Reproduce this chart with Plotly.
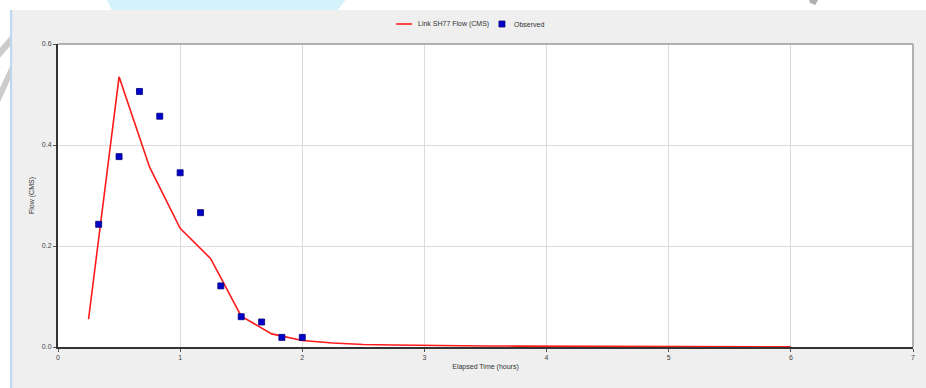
import plotly.graph_objects as go

# Simulated link flow, 15-minute time step
sim_hours = [0.25, 0.5, 0.75, 1.0, 1.25, 1.5, 1.75, 2.0, 2.25, 2.5, 2.75, 3.0,
             3.25, 3.5, 3.75, 4.0, 4.25, 4.5, 4.75, 5.0, 5.25, 5.5, 5.75, 6.0]
sim_flow = [0.055, 0.535, 0.356, 0.235, 0.175, 0.061, 0.026, 0.013, 0.008, 0.005,
            0.004, 0.003, 0.0025, 0.002, 0.0018, 0.0015, 0.0012, 0.001, 0.0009,
            0.0008, 0.0007, 0.0006, 0.0005, 0.0004]

# Observed flow readings
obs_hours = [0.333, 0.5, 0.667, 0.833, 1.0, 1.167, 1.333, 1.5, 1.667, 1.833, 2.0]
obs_flow = [0.243, 0.377, 0.506, 0.457, 0.345, 0.266, 0.121, 0.060, 0.0495, 0.019, 0.019]

series_names = ["Link SH77 Flow (CMS)", "Observed"]
x_ticks = [0, 1, 2, 3, 4, 5, 6, 7]
y_ticks = [0.0, 0.2, 0.4, 0.6]

W, H = 926, 388
L, R, T, B = 58, 915, 44, 347  # plot area in pixels

LINE_COLOR = "#ff1a1a"
MARKER_COLOR = "#0000c8"
MARKER_EDGE = "#000080"


def px(x):
    return (x - L) / (R - L)


def py(y):
    return (B - y) / (B - T)


FONT = "Liberation Sans, Arial, sans-serif"

fig = go.Figure()
fig.add_trace(go.Scatter(
    x=sim_hours, y=sim_flow, mode="lines", name=series_names[0],
    line=dict(color=LINE_COLOR, width=1.6), showlegend=False,
))
fig.add_trace(go.Scatter(
    x=obs_hours, y=obs_flow, mode="markers", name=series_names[1],
    marker=dict(symbol="square", size=6, color=MARKER_COLOR,
                line=dict(color=MARKER_EDGE, width=0.8)),
    showlegend=False,
))

shapes = [
    # white strips outside the grey panel
    dict(type="rect", xref="paper", yref="paper", layer="below",
         x0=px(-2), x1=px(W + 2), y0=py(10), y1=py(-2),
         fillcolor="white", line=dict(width=0)),
    dict(type="rect", xref="paper", yref="paper", layer="below",
         x0=px(-2), x1=px(11), y0=py(H + 2), y1=py(-2),
         fillcolor="white", line=dict(width=0)),
    # light blue left edge of panel
    dict(type="line", xref="paper", yref="paper", layer="below",
         x0=px(11), x1=px(11), y0=py(H + 2), y1=py(10),
         line=dict(color="#bcd6f2", width=2)),
    # cyan band along the top
    dict(type="path", xref="paper", yref="paper", layer="below",
         path=(f"M {px(106)} {py(-2)} L {px(348)} {py(-2)} "
               f"L {px(338)} {py(10)} L {px(112)} {py(10)} Z"),
         fillcolor="#d3f2fc", line=dict(width=0)),
    # grey strokes in the left margin
    dict(type="path", xref="paper", yref="paper", layer="below",
         path=(f"M {px(-2)} {py(50)} L {px(10)} {py(36)} L {px(10)} {py(46)} "
               f"L {px(-2)} {py(60)} Z"),
         fillcolor="#cccccc", line=dict(width=0)),
    dict(type="path", xref="paper", yref="paper", layer="below",
         path=(f"M {px(-2)} {py(92)} L {px(10)} {py(66)} L {px(10)} {py(80)} "
               f"L {px(-2)} {py(106)} Z"),
         fillcolor="#cccccc", line=dict(width=0)),
    # grey mark at the top right
    dict(type="path", xref="paper", yref="paper", layer="below",
         path=(f"M {px(810)} {py(-2)} L {px(821)} {py(-2)} L {px(817)} {py(5)} "
               f"L {px(812)} {py(3)} Z"),
         fillcolor="#b0b0b0", line=dict(width=0)),
    # top and right frame of plot area
    dict(type="line", xref="paper", yref="paper", x0=0, x1=1, y0=1, y1=1,
         line=dict(color="#9a9a9a", width=1.5)),
    dict(type="line", xref="paper", yref="paper", x0=1, x1=1, y0=0, y1=1,
         line=dict(color="#9a9a9a", width=1.5)),
    # legend keys
    dict(type="line", xref="paper", yref="paper",
         x0=px(397), x1=px(413), y0=py(24), y1=py(24),
         line=dict(color=LINE_COLOR, width=1.6)),
    dict(type="rect", xref="paper", yref="paper",
         x0=px(500), x1=px(506), y0=py(27), y1=py(21),
         fillcolor=MARKER_COLOR, line=dict(color=MARKER_EDGE, width=0.8)),
]

annotations = [
    dict(xref="paper", yref="paper", x=px(417), y=py(24), xanchor="left",
         yanchor="middle", text=series_names[0], showarrow=False,
         font=dict(size=7, color="#333333")),
    dict(xref="paper", yref="paper", x=px(513), y=py(24), xanchor="left",
         yanchor="middle", text=series_names[1], showarrow=False,
         font=dict(size=7, color="#333333")),
]

fig.update_layout(
    width=W, height=H,
    margin=dict(l=L, r=W - R, t=T, b=H - B, pad=0),
    paper_bgcolor="#efefef",
    plot_bgcolor="white",
    font=dict(family=FONT, size=7, color="#444444"),
    showlegend=False,
    shapes=shapes,
    annotations=annotations,
    xaxis=dict(
        range=[0, 7], tickvals=x_ticks, ticktext=[str(v) for v in x_ticks],
        showgrid=True, gridcolor="#dcdcdc", gridwidth=1, zeroline=False,
        showline=True, linecolor="#333333", linewidth=2,
        ticks="outside", ticklen=3, tickcolor="#555555",
        tickfont=dict(size=7, color="#444444"),
        title=dict(text="Elapsed Time (hours)", standoff=4,
                   font=dict(size=7, color="#333333")),
    ),
    yaxis=dict(
        range=[0, 0.6], tickvals=y_ticks, ticktext=[f"{v:.1f}" for v in y_ticks],
        showgrid=True, gridcolor="#dcdcdc", gridwidth=1, zeroline=False,
        showline=True, linecolor="#333333", linewidth=2,
        ticks="outside", ticklen=3, tickcolor="#555555",
        tickfont=dict(size=7, color="#444444"),
        title=dict(text="Flow (CMS)", standoff=6,
                   font=dict(size=7, color="#333333")),
    ),
)

fig.write_html("out.html")
